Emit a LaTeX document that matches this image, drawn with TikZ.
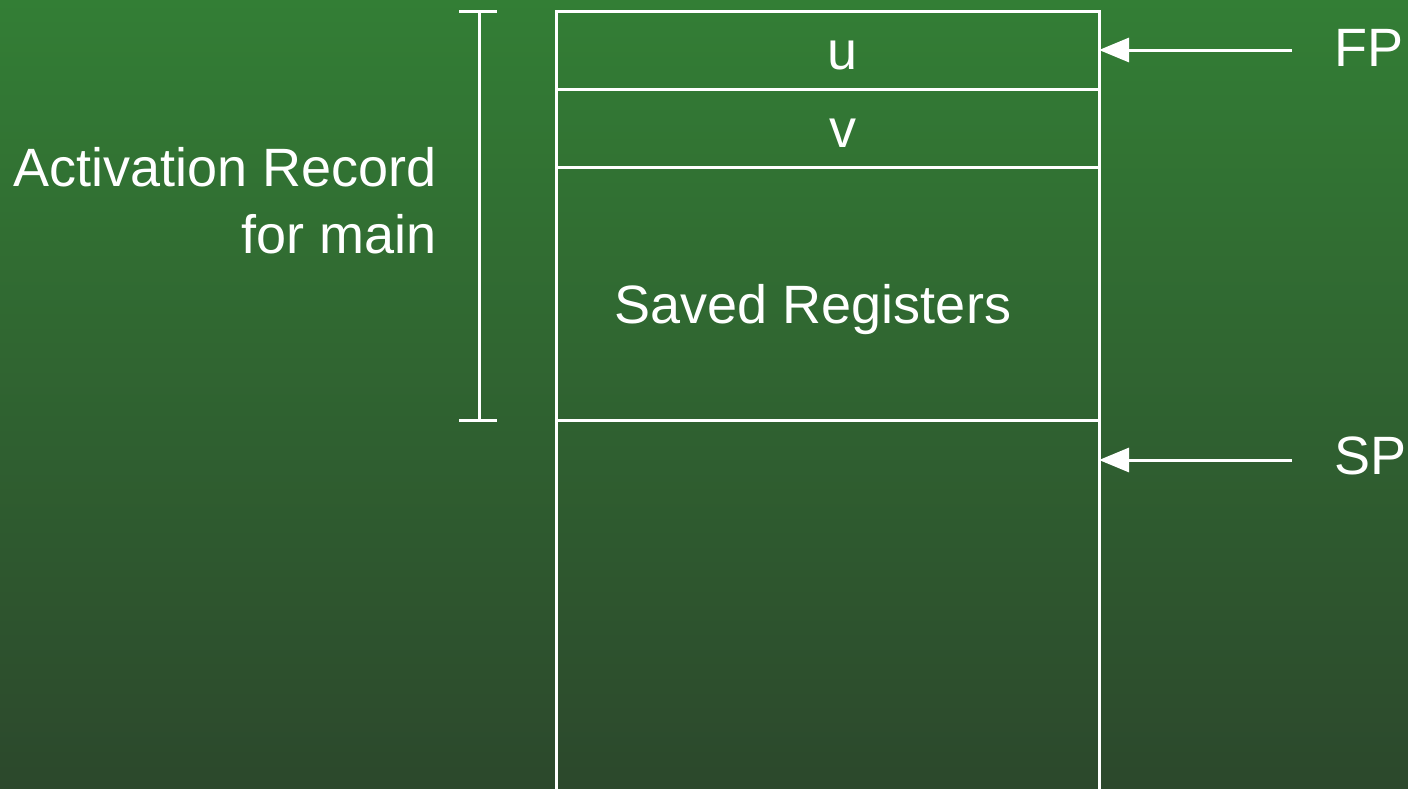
\documentclass[tikz,border=0pt]{standalone}
\usepackage{fontspec}
\setmainfont{Liberation Sans}
\usetikzlibrary{arrows.meta}
\definecolor{bgtop}{RGB}{51,126,53}
\definecolor{bgbot}{RGB}{44,72,44}
\tikzset{
  wline/.style={draw=white, line width=3pt},
  lbl/.style={text=white, inner sep=0pt, font=\fontsize{54}{64}\selectfont},
  ptr/.style={wline, -{Triangle[length=30pt,width=24pt]}},
}
\begin{document}
\begin{tikzpicture}[x=1pt,y=-1pt]
\useasboundingbox (0,0) rectangle (1408,788);
\shade[top color=bgtop, bottom color=bgbot] (0,0) rectangle (1408,788);
\begin{scope}
\clip (0,0) rectangle (1408,788);
% stack box
\coordinate (tl) at (556,11);
\coordinate (tr) at (1099,11);
\coordinate (bl) at (556,800);
\coordinate (br) at (1099,800);
\draw[wline] (bl) -- (tl) -- (tr) -- (br);
\coordinate (d1l) at (556,89);  \coordinate (d1r) at (1099,89);
\coordinate (d2l) at (556,167); \coordinate (d2r) at (1099,167);
\coordinate (d3l) at (556,420); \coordinate (d3r) at (1099,420);
\draw[wline] (d1l) -- (d1r);
\draw[wline] (d2l) -- (d2r);
\draw[wline] (d3l) -- (d3r);
% labels in box
\node[lbl, anchor=base] (u) at (843,69) {u};
\node[lbl, anchor=base] (v) at (843,147) {v};
\node[lbl, anchor=base] (saved) at (813,323) {Saved Registers};
% bracket
\coordinate (bt) at (479,11);
\coordinate (bb) at (479,420);
\draw[wline] (bt) -- (bb);
\draw[wline] (459,11) -- (497,11);
\draw[wline] (459,420) -- (497,420);
\node[lbl, anchor=base east] (ar1) at (437,186) {Activation Record};
\node[lbl, anchor=base east] (ar2) at (437,253) {for main};
% pointers
\node[lbl, anchor=base west] (fp) at (1334,66) {FP};
\node[lbl, anchor=base west] (sp) at (1334,474) {SP};
\coordinate (fpt) at (1292,50);
\coordinate (fph) at (1099,50);
\coordinate (spt) at (1292,460);
\coordinate (sph) at (1099,460);
\draw[ptr] (fpt) -- (fph);
\draw[ptr] (spt) -- (sph);
\end{scope}
\end{tikzpicture}
\end{document}
